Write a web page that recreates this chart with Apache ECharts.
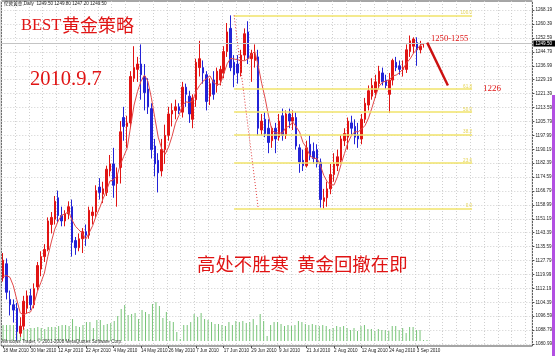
<!DOCTYPE html>
<html>
<head>
<meta charset="utf-8">
<script src="https://cdn.jsdelivr.net/npm/echarts@6/dist/echarts.min.js"></script>
<style>
html,body{margin:0;padding:0;background:#fff;}
#c{width:555px;height:356px;}
</style>
</head>
<body>
<div id="c"></div>
<script>
// ---- data -------------------------------------------------------------
const symbolName = '伦敦黄金';
const period = 'Daily';

const dates = [
  '18 Mar 2010','19 Mar 2010','22 Mar 2010','23 Mar 2010','24 Mar 2010','25 Mar 2010','26 Mar 2010','29 Mar 2010','30 Mar 2010','31 Mar 2010',
  '1 Apr 2010','5 Apr 2010','6 Apr 2010','7 Apr 2010','8 Apr 2010','9 Apr 2010','12 Apr 2010','13 Apr 2010','14 Apr 2010','15 Apr 2010',
  '16 Apr 2010','19 Apr 2010','20 Apr 2010','21 Apr 2010','22 Apr 2010','23 Apr 2010','26 Apr 2010','27 Apr 2010','28 Apr 2010','29 Apr 2010',
  '30 Apr 2010','3 May 2010','4 May 2010','5 May 2010','6 May 2010','7 May 2010','10 May 2010','11 May 2010','12 May 2010','13 May 2010',
  '14 May 2010','17 May 2010','18 May 2010','19 May 2010','20 May 2010','21 May 2010','24 May 2010','25 May 2010','26 May 2010','27 May 2010',
  '28 May 2010','31 May 2010','1 Jun 2010','2 Jun 2010','3 Jun 2010','4 Jun 2010','7 Jun 2010','8 Jun 2010','9 Jun 2010','10 Jun 2010',
  '11 Jun 2010','14 Jun 2010','15 Jun 2010','16 Jun 2010','17 Jun 2010','18 Jun 2010','21 Jun 2010','22 Jun 2010','23 Jun 2010','24 Jun 2010',
  '25 Jun 2010','28 Jun 2010','29 Jun 2010','30 Jun 2010','1 Jul 2010','2 Jul 2010','5 Jul 2010','6 Jul 2010','7 Jul 2010','8 Jul 2010',
  '9 Jul 2010','12 Jul 2010','13 Jul 2010','14 Jul 2010','15 Jul 2010','16 Jul 2010','19 Jul 2010','20 Jul 2010','21 Jul 2010','22 Jul 2010',
  '23 Jul 2010','26 Jul 2010','27 Jul 2010','28 Jul 2010','29 Jul 2010','30 Jul 2010','2 Aug 2010','3 Aug 2010','4 Aug 2010','5 Aug 2010',
  '6 Aug 2010','9 Aug 2010','10 Aug 2010','11 Aug 2010','12 Aug 2010','13 Aug 2010','16 Aug 2010','17 Aug 2010','18 Aug 2010','19 Aug 2010',
  '20 Aug 2010','23 Aug 2010','24 Aug 2010','25 Aug 2010','26 Aug 2010','27 Aug 2010','30 Aug 2010','31 Aug 2010','1 Sep 2010','2 Sep 2010',
  '3 Sep 2010','6 Sep 2010','7 Sep 2010'
];

const openP = [
  1118,1126,1106,1103,1101,1087,1091,1101,1108,1103,
  1113,1123,1130,1134,1148,1151,1163,1153,1150,1154,
  1158,1139,1135,1140,1144,1142,1153,1155,1169,1165,
  1166,1178,1182,1171,1180,1208,1203,1205,1230,1235,
  1238,1231,1224,1213,1192,1184,1178,1190,1198,1210,
  1212,1214,1211,1225,1220,1207,1218,1236,1236,1232,
  1220,1229,1226,1229,1233,1245,1258,1239,1238,1233,
  1243,1256,1241,1240,1242,1201,1207,1202,1195,1202,
  1197,1209,1198,1210,1206,1208,1191,1184,1181,1193,
  1189,1190,1183,1161,1163,1168,1176,1181,1184,1195,
  1197,1205,1203,1198,1196,1207,1215,1220,1222,1227,
  1233,1229,1221,1229,1239,1237,1235,1235,1245,1248,
  1250,1246,1249.5
];
const highP = [
  1132,1129,1111,1106,1104,1096,1108,1111,1112,1115,
  1127,1133,1137,1152,1155,1164,1167,1158,1156,1161,
  1162,1141,1143,1146,1148,1158,1158,1170,1174,1172,
  1181,1187,1191,1180,1206,1214,1209,1234,1248,1242,
  1249,1238,1230,1216,1196,1188,1196,1204,1214,1216,
  1218,1216,1228,1227,1223,1221,1241,1251,1240,1234,
  1230,1234,1236,1237,1248,1261,1265.3,1243,1243,1246,
  1258,1262,1246,1249,1246,1210,1211,1207,1203,1205,
  1210,1213,1212,1213,1212,1211,1193,1190,1195,1198,
  1194,1193,1185,1168,1172,1182,1188,1190,1198,1202,
  1208,1209,1207,1205,1210,1219,1226,1230,1232,1237,
  1236,1232,1233,1241,1242,1240,1240,1249,1254,1253,
  1253,1251,1249.8
];
const lowP = [
  1116,1106,1097,1093,1083,1085,1089,1098,1100,1101,
  1111,1119,1127,1133,1143,1148,1149,1147,1147,1151,
  1130,1131,1133,1132,1136,1140,1148,1152,1162,1160,
  1164,1175,1163,1158,1171,1195,1191,1202,1228,1228,
  1218,1212,1210,1185,1175,1166,1175,1182,1195,1203,
  1207,1210,1208,1214,1205,1202,1214,1231,1227,1212,
  1215,1218,1222,1226,1230,1242,1234,1225,1227,1231,
  1240,1238,1228,1236,1198,1198,1197,1188,1191,1188,
  1195,1195,1196,1202,1201,1190,1177,1178,1180,1184,
  1182,1180,1157.5,1157,1158,1165,1172,1178,1182,1192,
  1190,1198,1193,1191,1193,1205,1212,1218,1219,1224,
  1226,1224,1210.5,1226,1234,1232,1231,1233,1242,1244,
  1237,1244,1247.2
];
const closeP = [
  1128,1110,1103,1100,1088,1091,1105,1108,1103,1112,
  1125,1130,1134,1150,1152,1161,1153,1150,1154,1158,
  1138,1135,1140,1144,1142,1156,1155,1167,1166,1168,
  1179,1182,1170,1176,1200,1203,1205,1231,1236,1238,
  1232,1222,1214,1190,1182,1177,1190,1198,1210,1212,
  1214,1212,1225,1221,1210,1219,1239,1241,1233,1217,
  1227,1221,1234,1235,1245,1256,1236,1232,1233,1243,
  1255,1241,1244,1243,1202,1206,1199,1194,1202,1196,
  1206,1198,1210,1206,1208,1192,1183,1181,1191,1186,
  1185,1182,1162,1163,1168,1176,1182,1186,1196,1199,
  1206,1202,1197,1196,1207,1216,1223,1226,1228,1234,
  1228,1226,1229,1240,1236,1235,1236,1246,1251,1252,
  1246,1248,1249.5
];

// tick volume, thousands
const volume = [
  16,16,16,16,22,16,13,12,13,13,
  14,13,12,14,14,14,15,16,16,15,
  22,15,14,16,19,19,13,21,21,16,
  17,18,20,25,32,36,26,27,28,22,
  31,29,27,37,39,35,23,29,20,19,
  9,2,16,16,19,27,24,28,22,21,
  19,17,17,16,15,19,16,20,19,20,
  18,19,22,16,27,20,5,16,19,19,
  17,15,16,15,16,20,19,17,16,17,
  16,15,16,15,12,13,15,14,15,13,
  11,13,10,15,16,12,12,10,12,11,
  11,10,15,15,11,13,8,14,14,11,
  11,1,1
];

// closes of the sessions before 18 Mar, feeding the moving average
const priorCloses = [1107, 1108, 1124, 1127];
const maPeriod = 5;

const priceTicks = [
  1080.99,1088.79,1096.59,1104.39,1112.19,1119.99,1127.79,1135.59,1143.39,1151.19,
  1158.99,1166.79,1174.59,1182.39,1190.19,1197.99,1205.79,1213.59,1221.39,1229.19,
  1236.99,1244.79,1252.59,1260.39,1268.19
];

// Fibonacci retracement drawn from the June high to the July low
const fibHigh = 1265.3;
const fibLow = 1157.0;
const fibLevels = [0, 23.6, 38.2, 50, 61.8, 100];
const fibFromDay = '22 Jun 2010';
const fibToDay = '1 Jul 2010';

// forecast: pull back from the 1250-1255 zone to 1226
const zoneLow = 1250, zoneHigh = 1255;
const targetPrice = 1226;

const titleText = 'BEST';
const titleTextCn = '黄金策略';
const dateText = '2010.9.7';
const slogan = '高处不胜寒  黄金回撤在即';
const copyright = 'Windows Trader, © 2001-2008 MetaQuotes Software Corp.';

// ---- layout -----------------------------------------------------------
const emptySlots = 31;               // blank room right of the last bar
const categories = dates.concat(Array.from({length: emptySlots}, (_, i) => '+' + (i + 1)));
const lastIdx = dates.length - 1;
const fibFrom = dates.indexOf(fibFromDay);
const fibTo = dates.indexOf(fibToDay);
const fibRightEdge = lastIdx + 14;
const arrowFrom = lastIdx + 1;
const arrowTo = lastIdx + 7;

function sma(values, prior, n) {
  const all = prior.concat(values);
  return values.map((_, i) => {
    const j = i + prior.length;
    let s = 0;
    for (let k = j - n + 1; k <= j; k++) s += all[k];
    return +(s / n).toFixed(2);
  });
}

const candles = dates.map((_, i) => [openP[i], closeP[i], lowP[i], highP[i]]);
const ma = sma(closeP, priorCloses, maPeriod);

const RED = '#e01414';
const BLUE = '#2323d6';
const YEL = '#f1e36a';
const tiny = 4.6;
const gridLeft = 1.3, gridRight = 18.55;

const fibLines = fibLevels.map(lv => {
  const p = +(fibLow + (fibHigh - fibLow) * lv / 100).toFixed(2);
  return [
    { coord: [fibFrom, p], lineStyle: { color: YEL, width: 1.6, type: 'solid' },
      label: { show: true, position: 'insideEndTop', distance: 0, formatter: lv.toFixed(1),
               color: '#e6d456', fontSize: tiny, fontFamily: 'Liberation Sans' } },
    { coord: [fibRightEdge, p] }
  ];
});

const last = lastIdx;
const header = symbolName + ',' + period + '  ' +
  [openP[last], highP[last], lowP[last], closeP[last]].map(v => v.toFixed(2)).join(' ');

const option = {
  animation: false,
  backgroundColor: '#ffffff',
  grid: [
    { left: gridLeft, right: gridRight, top: 1, bottom: 10, show: true,
      borderColor: '#4d4d4d', borderWidth: 1, backgroundColor: 'transparent' },
    { left: gridLeft, right: gridRight, top: 281, bottom: 15, show: false }
  ],
  xAxis: [
    {
      type: 'category', data: categories, gridIndex: 0, boundaryGap: true,
      axisLine: { show: false },
      axisTick: { show: true, alignWithLabel: true, length: 2,
                  interval: (i) => i % 8 === 0 && i <= lastIdx,
                  lineStyle: { color: '#4d4d4d' } },
      axisLabel: { show: true, interval: (i) => i % 8 === 0 && i <= lastIdx,
                   align: 'left', margin: 2, fontSize: tiny, color: '#222',
                   fontFamily: 'Liberation Sans' },
      splitLine: { show: true, interval: (i) => i % 4 === 0,
                   lineStyle: { color: '#cfcfcf', type: [1, 2], width: 1 } }
    },
    { type: 'category', data: categories, gridIndex: 1, boundaryGap: true, show: false }
  ],
  yAxis: [
    {
      type: 'value', gridIndex: 0, position: 'right', scale: true,
      min: 1079.87, max: 1273.35,
      axisLine: { show: false },
      axisTick: { show: true, customValues: priceTicks, length: 2,
                  lineStyle: { color: '#4d4d4d' } },
      axisLabel: { show: true, customValues: priceTicks, margin: 3,
                   formatter: (v) => v.toFixed(2), fontSize: tiny, color: '#222',
                   fontFamily: 'Liberation Sans' },
      splitLine: { show: true, lineStyle: { color: '#cfcfcf', type: [1, 2], width: 1 } }
    },
    { type: 'value', gridIndex: 1, min: 0, max: 60, show: false, splitLine: { show: false } }
  ],
  series: [
    {
      name: 'Volume', type: 'bar', xAxisIndex: 1, yAxisIndex: 1,
      data: volume, barWidth: 1, itemStyle: { color: '#78c478' }, silent: true, z: 1
    },
    {
      name: symbolName, type: 'candlestick', xAxisIndex: 0, yAxisIndex: 0,
      data: candles, barWidth: 2,
      itemStyle: { color: RED, color0: BLUE, borderColor: RED, borderColor0: BLUE, borderWidth: 1 },
      z: 3,
      markLine: {
        silent: true, symbol: ['none', 'none'], animation: false,
        label: { show: false },
        data: [
          ...fibLines,
          [ { coord: [fibFrom, fibHigh], lineStyle: { color: '#e23a3a', width: 1, type: [1, 2] } },
            { coord: [fibTo, fibLow] } ],
          { yAxis: closeP[last],
            lineStyle: { color: '#c4c4c4', width: 1, type: 'solid' },
            label: { show: true, position: 'end', distance: 1, formatter: closeP[last].toFixed(2),
                     backgroundColor: '#000', color: '#fff', fontSize: tiny, padding: [1, 3, 0, 2],
                     fontFamily: 'Liberation Sans' } },
          [ { coord: [arrowFrom, zoneLow], lineStyle: { color: '#cc1010', width: 2.4, type: 'solid' } },
            { coord: [arrowTo, targetPrice] } ]
        ]
      }
    },
    {
      name: 'MA' + maPeriod, type: 'line', xAxisIndex: 0, yAxisIndex: 0,
      data: ma, symbol: 'none', smooth: false,
      lineStyle: { color: '#e24a4a', width: 1 }, z: 4, silent: true
    }
  ],
  graphic: [
    { type: 'text', x: 4, y: 4, z: 50, silent: true,
      style: { text: header, fill: '#222', fontSize: tiny, fontFamily: 'Liberation Sans, Noto Sans CJK SC',
               align: 'left', verticalAlign: 'middle' } },
    { type: 'text', x: 2, y: 341.5, z: 50, silent: true,
      style: { text: copyright, fill: '#333', fontSize: tiny, fontFamily: 'Liberation Sans',
               align: 'left', verticalAlign: 'middle' } },
    { type: 'text', x: 21, y: 25.5, z: 50, silent: true,
      style: { text: titleText, fill: RED, fontSize: 16.5, fontFamily: 'Liberation Serif',
               align: 'left', verticalAlign: 'middle' } },
    { type: 'text', x: 62, y: 25.5, z: 50, silent: true,
      style: { text: titleTextCn, fill: RED, fontSize: 18, fontFamily: 'Noto Sans CJK SC',
               align: 'left', verticalAlign: 'middle' } },
    { type: 'text', x: 30, y: 79.5, z: 50, silent: true,
      style: { text: dateText, fill: RED, fontSize: 20.5, fontFamily: 'Liberation Serif',
               align: 'left', verticalAlign: 'middle' } },
    { type: 'text', x: 197, y: 264, z: 50, silent: true,
      style: { text: slogan, fill: RED, fontSize: 18.4, fontFamily: 'Noto Sans CJK SC',
               align: 'left', verticalAlign: 'middle' } },
    { type: 'text', x: 431, y: 39, z: 50, silent: true,
      style: { text: zoneLow + '-' + zoneHigh, fill: RED, fontSize: 8.6, fontFamily: 'Liberation Serif',
               align: 'left', verticalAlign: 'middle' } },
    { type: 'text', x: 483, y: 89, z: 50, silent: true,
      style: { text: String(targetPrice), fill: RED, fontSize: 9, fontFamily: 'Liberation Serif',
               align: 'left', verticalAlign: 'middle' } },
    { type: 'rect', z: 60, silent: true,
      shape: { x: 552, y: 95, width: 3, height: 261 }, style: { fill: '#b24fe2' } }
  ]
};

const chart = echarts.init(document.getElementById('c'), null, { renderer: 'canvas', width: 555, height: 356 });
chart.setOption(option);
</script>
</body>
</html>
